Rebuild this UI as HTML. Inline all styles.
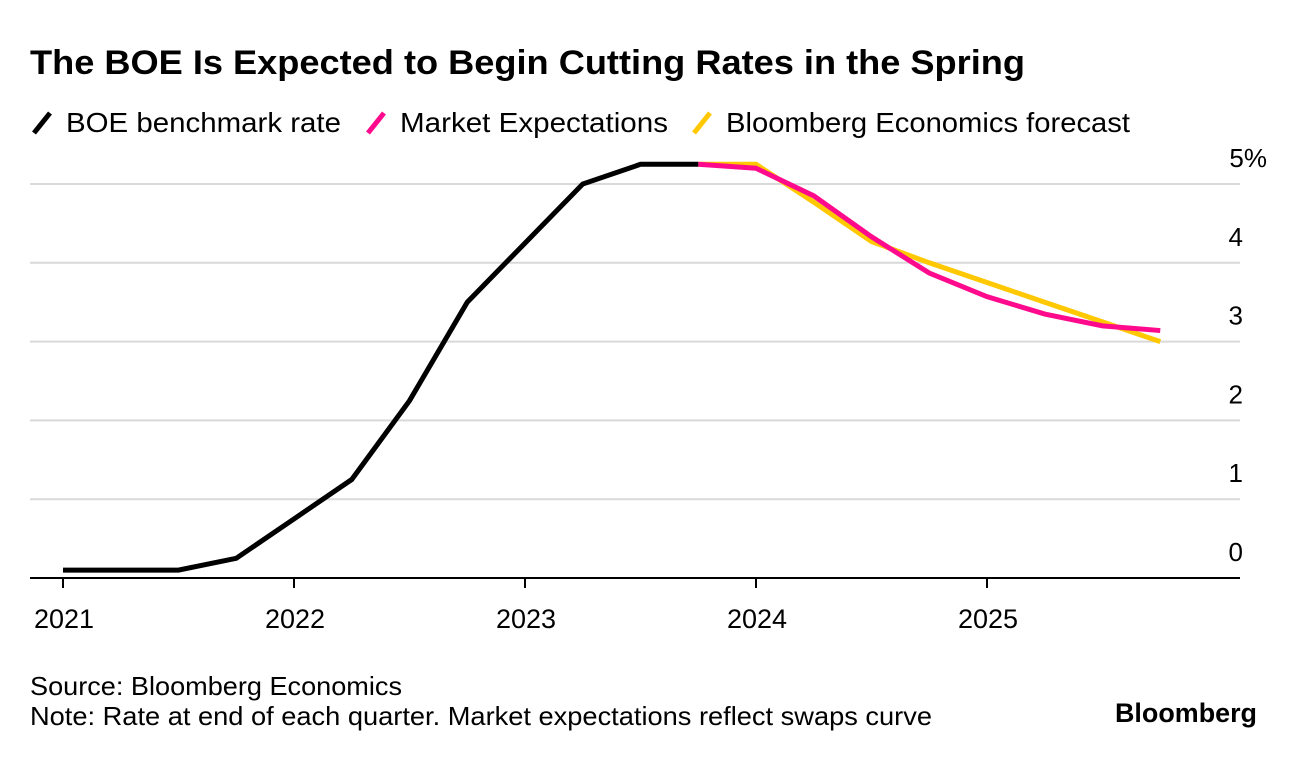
<!DOCTYPE html>
<html><head><meta charset="utf-8"><style>
body{margin:0;background:#fff;font-family:"Liberation Sans",Arial,sans-serif;}
svg text{font-family:"Liberation Sans",Arial,sans-serif;}
</style></head><body>
<svg id="c" width="1296" height="756" xmlns="http://www.w3.org/2000/svg">
<text x="30" y="74" font-size="34" font-weight="bold" fill="#000" textLength="995" lengthAdjust="spacingAndGlyphs">The BOE Is Expected to Begin Cutting Rates in the Spring</text>
<g>
<g><line x1="34" y1="133" x2="50" y2="113" stroke="#000" stroke-width="5"/><text x="66" y="132" font-size="28" textLength="275" lengthAdjust="spacingAndGlyphs">BOE benchmark rate</text></g>
<g><line x1="368" y1="133" x2="384" y2="113" stroke="#ff0a8c" stroke-width="5"/><text x="400" y="132" font-size="28" textLength="268" lengthAdjust="spacingAndGlyphs">Market Expectations</text></g>
<g><line x1="694" y1="133" x2="710" y2="113" stroke="#ffc800" stroke-width="5"/><text x="726" y="132" font-size="28" textLength="404" lengthAdjust="spacingAndGlyphs">Bloomberg Economics forecast</text></g>
</g>
<g id="grid"></g><g id="xax"></g><g id="lines"></g>
<text x="30" y="695" font-size="26" textLength="372" lengthAdjust="spacingAndGlyphs">Source: Bloomberg Economics</text>
<text x="30" y="725" font-size="26" textLength="902" lengthAdjust="spacingAndGlyphs">Note: Rate at end of each quarter. Market expectations reflect swaps curve</text>
<text x="1257" y="722" font-size="27" font-weight="bold" text-anchor="end" textLength="142" lengthAdjust="spacingAndGlyphs">Bloomberg</text>
</svg>
<script>
const yTicks=[0,1,2,3,4,5];
const yearLabels=["2021","2022","2023","2024","2025"];
const boeQ=[0,1,2,3,4,5,6,7,8,9,10,11];
const boeVals=[0.1,0.1,0.1,0.25,0.75,1.25,2.25,3.5,4.25,5.0,5.25,5.25];
const fcQ=[11,12,13,14,15,16,17,18,19];
const marketVals=[5.25,5.2,4.85,4.33,3.87,3.57,3.35,3.2,3.14];
const beVals=[5.25,5.25,4.77,4.27,4.0,3.75,3.5,3.25,3.0];
const NS="http://www.w3.org/2000/svg";
const x=q=>63+q*57.75, y=v=>578-v*78.8;
function mk(t,a,p){const e=document.createElementNS(NS,t);for(const k in a)e.setAttribute(k,a[k]);p.appendChild(e);return e;}
const g=document.getElementById('grid');
yTicks.forEach(v=>{
 if(v>0){const l=mk('line',{x1:30,x2:1240,y1:y(v),y2:y(v),stroke:'#d9d9d9','stroke-width':2},g);
 
 }
 const t=mk('text',{x:1243,y:y(v)-17,'font-size':26,'text-anchor':'end'},g);
 if(v==5){t.setAttribute('x',1267);}
 t.textContent=v==5?'5%':String(v);
 
 
});
const xa=document.getElementById('xax');
const ax=mk('line',{x1:30,x2:1240,y1:578,y2:578,stroke:'#000','stroke-width':2},xa);


yearLabels.forEach((s,i)=>{
 const tk=mk('line',{x1:x(i*4),x2:x(i*4),y1:578,y2:588,stroke:'#000','stroke-width':2},xa);
 
 
 const t=mk('text',{x:x(i*4)+1,y:628,'font-size':27,'text-anchor':'middle'},xa);
 t.textContent=s;
 
 
});
const L=document.getElementById('lines');
function line(qs,vs,col,name){
 const p=mk('polyline',{points:qs.map((q,i)=>x(q)+','+y(vs[i])).join(' '),fill:'none',stroke:col,'stroke-width':5,'stroke-linejoin':'miter'},L);
 
 
}
line(fcQ,beVals,'#ffc800','bloomberg-forecast-line');
line(fcQ,marketVals,'#ff0a8c','market-expectations-line');
line(boeQ,boeVals,'#000','boe-rate-line');
</script>
</body></html>
